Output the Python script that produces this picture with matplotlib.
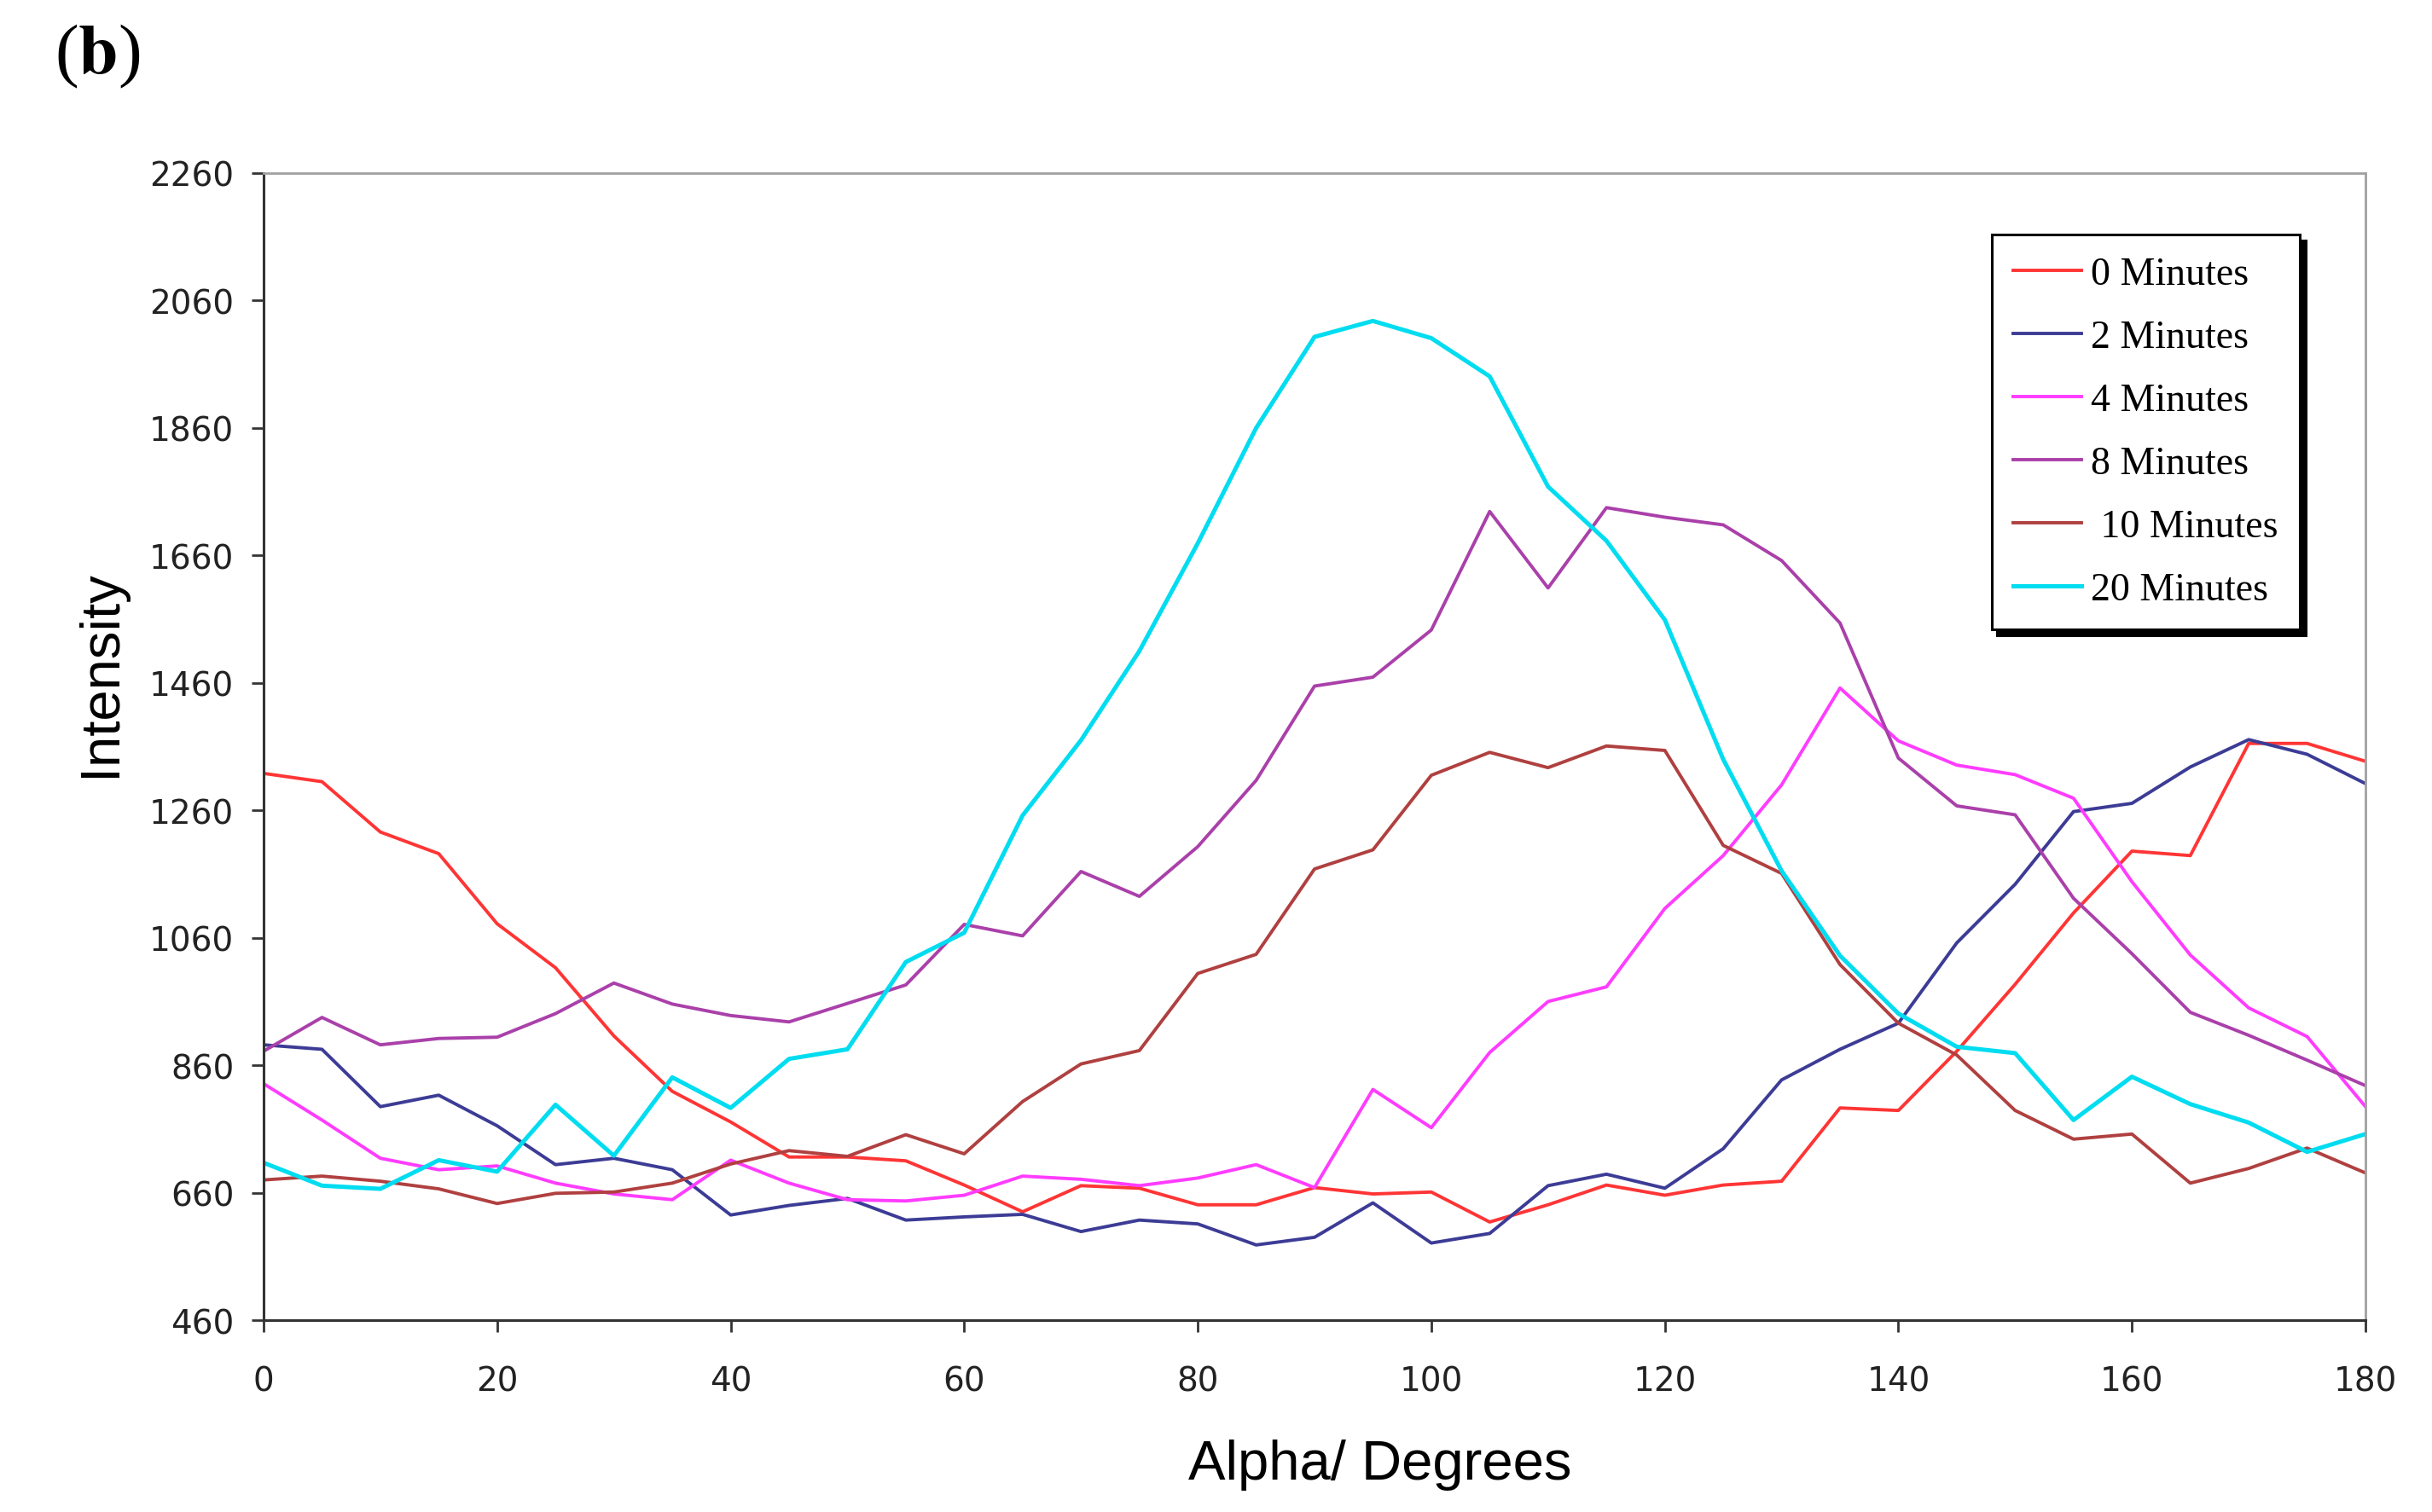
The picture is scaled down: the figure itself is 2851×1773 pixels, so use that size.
import numpy as np
import matplotlib
matplotlib.use("Agg")
import matplotlib.pyplot as plt

# data
alpha = np.arange(0, 181, 5)

int_0min = [1318, 1305, 1226, 1192, 1082, 1013, 906, 819, 771, 716, 716,
            710, 672, 630, 671, 667, 641, 641, 668, 658, 661,
            614, 641, 672, 656, 672, 678, 793, 789, 882, 987,
            1099, 1196, 1189, 1365, 1365, 1337]
int_2min = [892, 885, 795, 813, 765, 704, 714, 696, 625, 640, 651,
            617, 622, 626, 599, 617, 611, 578, 590, 644, 581,
            596, 671, 689, 667, 729, 837, 885, 926, 1052, 1144,
            1258, 1271, 1328, 1371, 1348, 1302]
int_4min = [831, 774, 714, 696, 702, 675, 658, 649, 711, 675, 649,
            647, 656, 686, 681, 671, 683, 704, 668, 822, 762,
            880, 960, 983, 1106, 1189, 1300, 1452, 1369, 1331, 1316,
            1279, 1148, 1033, 950, 905, 795]
int_8min = [882, 935, 892, 902, 904, 941, 989, 956, 938, 928, 957,
            986, 1081, 1063, 1164, 1125, 1203, 1307, 1455, 1469, 1543,
            1729, 1609, 1735, 1720, 1708, 1652, 1554, 1342, 1267, 1253,
            1122, 1035, 943, 907, 868, 828]
int_10min = [680, 686, 678, 666, 643, 659, 661, 675, 705, 726, 717,
             751, 721, 803, 862, 883, 1004, 1034, 1168, 1198, 1315,
             1351, 1327, 1361, 1354, 1205, 1161, 1018, 926, 876, 789,
             744, 752, 675, 698, 730, 691]
int_20min = [707, 671, 666, 711, 693, 798, 718, 841, 793, 870, 885,
             1022, 1068, 1252, 1370, 1510, 1679, 1860, 2003, 2028, 2001,
             1941, 1768, 1683, 1559, 1340, 1165, 1032, 941, 889, 879,
             774, 842, 799, 770, 724, 752]

labels = ["0 Minutes", "2 Minutes", "4 Minutes", "8 Minutes", " 10 Minutes", "20 Minutes"]
series = [int_0min, int_2min, int_4min, int_8min, int_10min, int_20min]
colors = ["#FF3535", "#3C3C96", "#FF3CFF", "#AA40AA", "#B04040", "#00DCF0"]
widths = [2.8, 2.8, 2.8, 2.8, 2.8, 3.6]

plt.rcParams["mathtext.fontset"] = "stix"

fig = plt.figure(figsize=(28.51, 17.74), dpi=100)
ax = fig.add_axes([0.10838, 0.12683, 0.86426, 0.75818])

for y, lab, c, lw in zip(series, labels, colors, widths):
    ax.plot(alpha, y, color=c, lw=lw, label=lab)

ax.set_xlim(0, 180)
ax.set_ylim(460, 2260)
ax.set_xticks(np.arange(0, 181, 20))
ax.set_yticks(np.arange(460, 2261, 200))
ax.tick_params(axis="both", direction="out", length=10, width=2,
               color="#333333", labelsize=28, labelcolor="#222222")
ax.tick_params(axis="y", pad=15)
ax.tick_params(axis="x", pad=28)

for s in ["left", "bottom"]:
    ax.spines[s].set_color("#333333")
    ax.spines[s].set_linewidth(2.2)
for s in ["top", "right"]:
    ax.spines[s].set_color("#A0A0A0")
    ax.spines[s].set_linewidth(2.0)

leg = ax.legend(loc="upper right", bbox_to_anchor=(0.9688, 0.9465), borderaxespad=0,
                prop={"family": "Liberation Serif", "size": 33},
                frameon=True, fancybox=False, edgecolor="black", framealpha=1,
                handlelength=1.75, handletextpad=0.25, labelspacing=0.69, borderpad=0.55,
                shadow={"ox": 5, "oy": -5, "color": "black", "alpha": 1})
leg.get_frame().set_linewidth(2.2)

fig.text(1618 / 2851, 1 - 1718 / 1774, "Alpha/ Degrees", ha="center", va="center",
         family="Liberation Sans", fontsize=47)
fig.text(118 / 2851, 1 - 790 / 1774, "Intensity", ha="center", va="center",
         rotation=90, family="Liberation Sans", fontsize=47)
fig.text(64 / 2851, 1 - 66 / 1774, r"($\mathbf{b}$)", ha="left", va="center",
         family="Liberation Serif", fontsize=60)

fig.savefig("out.png", dpi=100, facecolor="white")
